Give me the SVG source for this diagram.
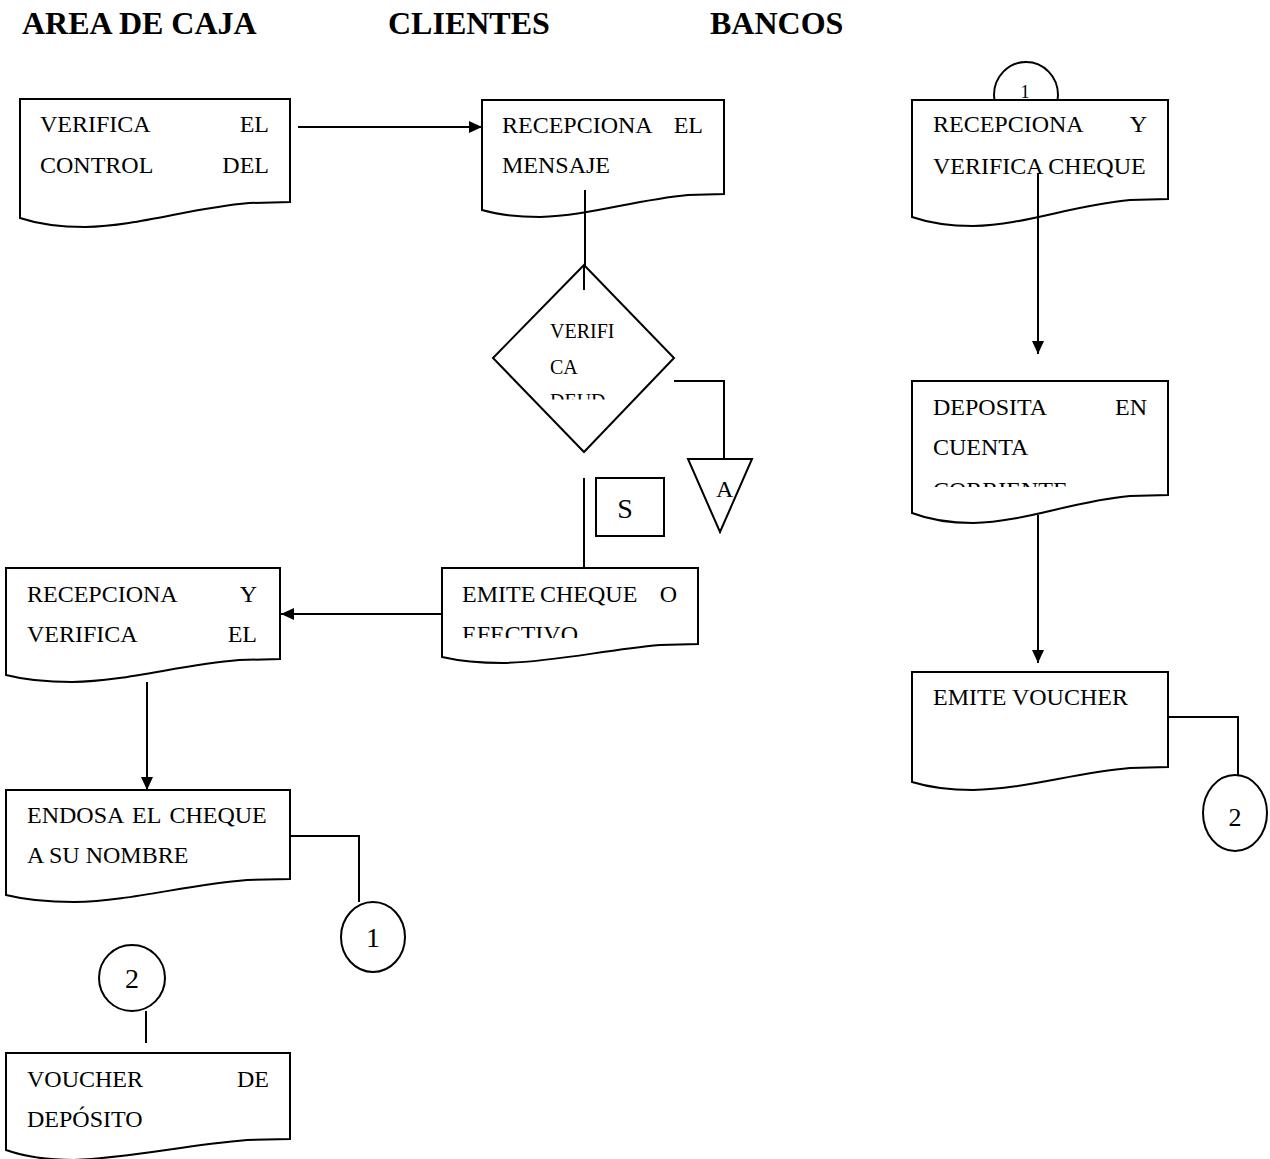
<svg xmlns="http://www.w3.org/2000/svg" width="1270" height="1159" viewBox="0 0 1270 1159">
<style>
.sh{fill:#fff;stroke:#000;stroke-width:2}
.ln{fill:none;stroke:#000;stroke-width:2}
.t{font-family:"Liberation Serif","Times New Roman",serif;font-size:24px;fill:#000}
.ts{font-family:"Liberation Serif","Times New Roman",serif;font-size:20px;fill:#000}
.h{font-family:"Liberation Serif","Times New Roman",serif;font-size:32px;font-weight:bold;fill:#000}
.e{text-anchor:end}
.m{text-anchor:middle}
</style>
<defs>
<marker id="ar" markerUnits="userSpaceOnUse" markerWidth="14" markerHeight="12" refX="13" refY="6" orient="auto">
<path d="M0,0 L13,6 L0,12 Z" fill="#000"/>
</marker>
<clipPath id="cDia"><rect x="540" y="300" width="90" height="99.5"/></clipPath>
<clipPath id="cDep"><rect x="920" y="380" width="240" height="107"/></clipPath>
<clipPath id="cEmi"><rect x="450" y="570" width="240" height="68"/></clipPath>
</defs>
<rect width="1270" height="1159" fill="#fff"/>
<g id="headers">
<text class="h" x="22" y="34">AREA DE CAJA</text>
<text class="h" x="388" y="34">CLIENTES</text>
<text class="h" x="710" y="34">BANCOS</text>
</g>
<g id="connectors">
<line class="ln" x1="298" y1="127" x2="482" y2="127" marker-end="url(#ar)"/>
<line class="ln" x1="585" y1="190" x2="585" y2="290"/>
<polyline class="ln" points="674,381 724,381 724,459"/>
<line class="ln" x1="584" y1="478" x2="584" y2="568"/>
<line class="ln" x1="442" y1="614" x2="281" y2="614" marker-end="url(#ar)"/>
<line class="ln" x1="147" y1="682" x2="147" y2="790" marker-end="url(#ar)"/>
<polyline class="ln" points="290,836 359,836 359,902"/>
<line class="ln" x1="146" y1="1011" x2="146" y2="1043"/>
<polyline class="ln" points="1168,717 1238,717 1238,775"/>
</g>
<g id="conn-top-1">
<ellipse class="sh" cx="1026" cy="95" rx="32" ry="33"/>
<text class="ts m" x="1025" y="98" style="font-size:18px">1</text>
</g>
<g id="n1">
<path class="sh" d="M20,99 H290 V202 L249,203 C190,208 139,226 85,227 Q47,227 20,218 Z"/>
<text class="t" x="40" y="132">VERIFICA</text><text class="t e" x="269" y="132">EL</text>
<text class="t" x="40" y="173">CONTROL</text><text class="t e" x="269" y="173">DEL</text>
</g>
<g id="n2">
<path class="sh" d="M482,100 H724 V194 L688,195 C634,200 588,216 540,217 Q506,217 482,210 Z"/>
<text class="t" x="502" y="133">RECEPCIONA</text><text class="t e" x="703" y="133">EL</text>
<text class="t" x="502" y="173">MENSAJE</text>
<line class="ln" x1="585" y1="190" x2="585" y2="217"/>
</g>
<g id="n-diamond">
<polygon class="sh" points="584,265 674,358 584,452 493,358"/>
<line class="ln" x1="584" y1="265" x2="584" y2="290"/>
<text class="ts" x="550" y="338">VERIFI</text>
<text class="ts" x="550" y="374">CA</text>
<text class="ts" x="550" y="408" clip-path="url(#cDia)">DEUD</text>
</g>
<g id="n-A">
<polygon class="sh" points="688,459 752,459 720,532"/>
<text class="t" x="716" y="497">A</text>
</g>
<g id="n-S">
<rect class="sh" x="596" y="478" width="68" height="58"/>
<text class="t m" x="625" y="518" style="font-size:28px">S</text>
</g>
<g id="n3">
<path class="sh" d="M912,100 H1168 V199 L1130,200 C1073,205 1025,225 973,226 Q938,226 912,217 Z"/>
<text class="t" x="933" y="132">RECEPCIONA</text><text class="t e" x="1147" y="132">Y</text>
<text class="t" x="933" y="174">VERIFICA CHEQUE</text>
</g>
<g id="conn-right">
<line class="ln" x1="1038" y1="173" x2="1038" y2="354" marker-end="url(#ar)"/>
<line class="ln" x1="1038" y1="515" x2="1038" y2="663" marker-end="url(#ar)"/>
</g>
<g id="n4">
<path class="sh" d="M912,381 H1168 V495 L1130,496 C1073,501 1025,522 973,523 Q938,523 912,513 Z"/>
<text class="t" x="933" y="415">DEPOSITA</text><text class="t e" x="1147" y="415">EN</text>
<text class="t" x="933" y="455">CUENTA</text>
<text class="t" x="933" y="498" clip-path="url(#cDep)">CORRIENTE</text>
</g>
<g id="n5">
<path class="sh" d="M912,672 H1168 V767 L1130,768 C1073,773 1025,789 973,790 Q938,790 912,782 Z"/>
<text class="t" x="933" y="705">EMITE VOUCHER</text>
</g>
<g id="n-c2r">
<ellipse class="sh" cx="1235" cy="813" rx="32" ry="38"/>
<text class="t m" x="1235" y="826" style="font-size:26px">2</text>
</g>
<g id="n6">
<path class="sh" d="M442,568 H698 V644 L660,645 C603,650 555,662 503,663 Q468,663 442,657 Z"/>
<text class="t" x="462" y="602">EMITE</text><text class="t" x="540" y="602">CHEQUE</text><text class="t e" x="677" y="602">O</text>
<text class="t" x="462" y="642" clip-path="url(#cEmi)">EFECTIVO</text>
</g>
<g id="n7">
<path class="sh" d="M6,568 H280 V659 L239,660 C179,665 127,681 72,682 Q33,682 6,675 Z"/>
<text class="t" x="27" y="602">RECEPCIONA</text><text class="t e" x="257" y="602">Y</text>
<text class="t" x="27" y="642">VERIFICA</text><text class="t e" x="257" y="642">EL</text>
</g>
<g id="n8">
<path class="sh" d="M6,790 H290 V879 L247,880 C185,885 131,901 74,902 Q34,902 6,895 Z"/>
<text class="t" x="27" y="823" word-spacing="3">ENDOSA EL CHEQUE</text>
<text class="t" x="27" y="863">A SU NOMBRE</text>
</g>
<g id="n-c1">
<ellipse class="sh" cx="373" cy="937" rx="32" ry="35"/>
<text class="t m" x="373" y="947" style="font-size:28px">1</text>
</g>
<g id="n-c2l">
<ellipse class="sh" cx="132" cy="978" rx="33" ry="33"/>
<text class="t m" x="132" y="988" style="font-size:28px">2</text>
</g>
<g id="n9">
<path class="sh" d="M6,1053 H290 V1139 L247,1140 C185,1145 131,1158 74,1160 Q34,1160 6,1150 Z"/>
<text class="t" x="27" y="1087">VOUCHER</text><text class="t e" x="269" y="1087">DE</text>
<text class="t" x="27" y="1127">DEPÓSITO</text>
</g>
</svg>
